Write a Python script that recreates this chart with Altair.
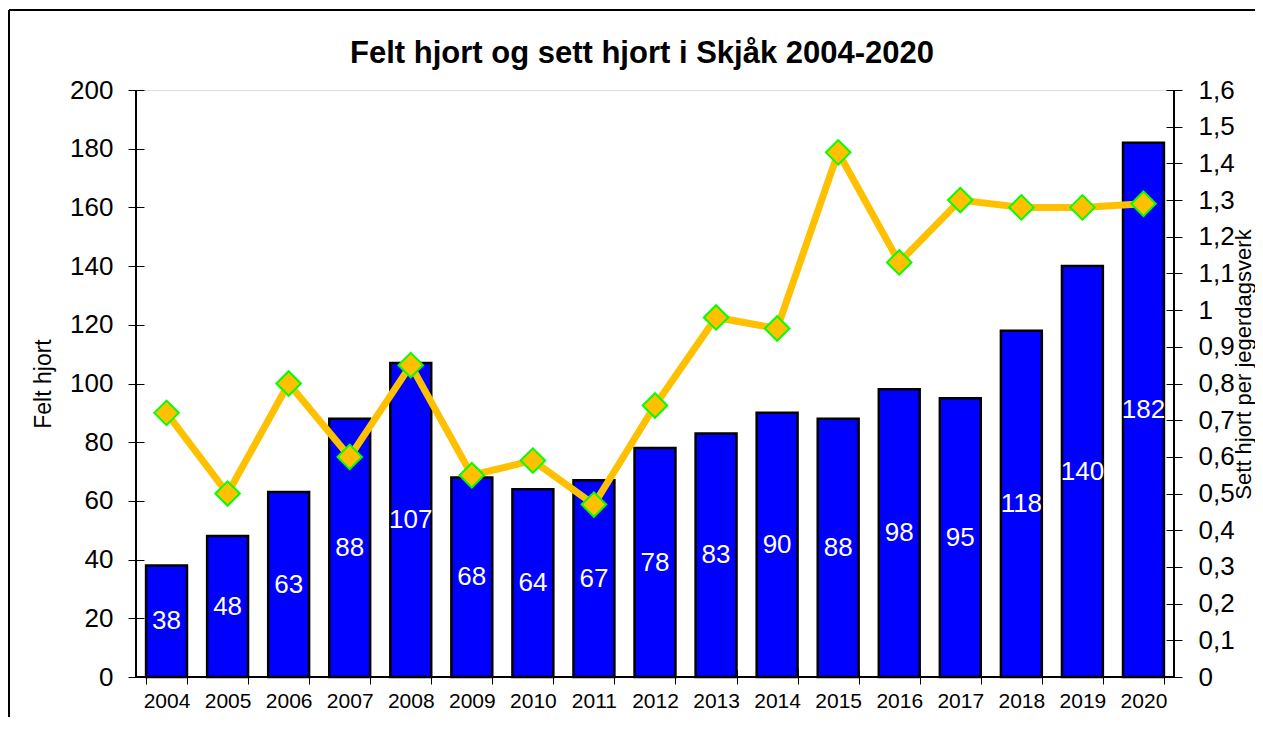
import altair as alt
import pandas as pd

years = [str(y) for y in range(2004, 2021)]
felt = [38, 48, 63, 88, 107, 68, 64, 67, 78, 83, 90, 88, 98, 95, 118, 140, 182]
sett = [0.72, 0.50, 0.80, 0.60, 0.85, 0.55, 0.59, 0.47, 0.74, 0.98, 0.95, 1.43, 1.13, 1.30, 1.28, 1.28, 1.29]
title_text = ["Felt hjort og sett hjort i Skjåk 2004-2020"]
right_ticks = [0, 0.1, 0.2, 0.3, 0.4, 0.5, 0.6, 0.7, 0.8, 0.9, 1.0, 1.1, 1.2, 1.3, 1.4, 1.5, 1.6]

df = pd.DataFrame({"year": years, "felt": felt, "sett": sett})
tdf = pd.DataFrame({"t": title_text})

FONT = "Liberation Sans, Arial, sans-serif"
W, H = 1038, 587

x_enc = alt.X(
    "year:N",
    title=None,
    scale=alt.Scale(paddingInner=0.33, paddingOuter=0.165),
    axis=alt.Axis(
        labelAngle=0, labelFont=FONT, labelFontSize=21, labelColor="black",
        tickBand="extent", tickColor="black", tickSize=14, offset=-7,
        domain=False, labelPadding=6, grid=False,
    ),
)

base = alt.Chart(df)

left_axis = alt.Axis(
    orient="left", values=list(range(0, 201, 20)), offset=-8, tickSize=16,
    tickColor="black", domain=False, grid=False, labelFont=FONT,
    labelFontSize=26, labelColor="black", labelPadding=15,
    labelOverlap=False,
    titleFont=FONT, titleFontSize=23, titleFontWeight="normal",
    titleColor="black", titlePadding=14,
)

right_axis = alt.Axis(
    orient="right", values=right_ticks,
    labelExpr="replace(format(datum.value, '.1~f'), '.', ',')",
    labelOverlap=False,
    offset=-8, tickSize=16, tickColor="black", domain=False, grid=False,
    labelFont=FONT, labelFontSize=26, labelColor="black", labelPadding=16,
    titleFont=FONT, titleFontSize=22, titleFontWeight="normal",
    titleColor="black", titleAngle=270, titleAlign="center",
    titleBaseline="middle", titleX=77, titleY=274,
)

left_scale = alt.Scale(domain=[0, 200], nice=False)
right_scale = alt.Scale(domain=[0, 1.6], nice=False)

bars = base.mark_bar(color="#0000FF", stroke="black", strokeWidth=2.5).encode(
    x=x_enc,
    y=alt.Y("felt:Q", title="Felt hjort", scale=left_scale, axis=left_axis),
)

labels = base.transform_calculate(mid="datum.felt / 2").mark_text(
    color="white", font=FONT, fontSize=26, baseline="middle"
).encode(
    x=x_enc,
    y=alt.Y("mid:Q", title="Felt hjort", scale=left_scale, axis=left_axis),
    text="felt:Q",
)

line = base.mark_line(color="#FFC000", strokeWidth=7).encode(
    x=x_enc,
    y=alt.Y("sett:Q", title="Sett hjort per jegerdagsverk", scale=right_scale, axis=right_axis),
)

points = base.mark_point(
    shape="diamond", filled=True, fill="#FFC000", stroke="#00FF00",
    strokeWidth=2, size=600, opacity=1,
).encode(
    x=x_enc,
    y=alt.Y("sett:Q", title="Sett hjort per jegerdagsverk", scale=right_scale, axis=right_axis),
)

title = alt.Chart(tdf).mark_text(
    font=FONT, fontSize=31, fontWeight="bold", color="black",
    align="center", baseline="alphabetic",
).encode(text="t:N", x=alt.value(506), y=alt.value(-27))

# plot-area edges and outer frame
edge_left = base.mark_rule(color="black", strokeWidth=1.5).encode(
    x=alt.value(0), y=alt.value(0), y2=alt.value(H)
)
edge_right = base.mark_rule(color="black", strokeWidth=1.5).encode(
    x=alt.value(W), y=alt.value(0), y2=alt.value(H)
)
edge_bottom = base.mark_rule(color="black", strokeWidth=1.5).encode(
    x=alt.value(0), x2=alt.value(W), y=alt.value(H)
)
frame_left = base.mark_rule(color="black", strokeWidth=1).encode(
    x=alt.value(-127), y=alt.value(-80), y2=alt.value(H + 60)
)
frame_top = base.mark_rule(color="black", strokeWidth=1).encode(
    x=alt.value(-127), x2=alt.value(W + 120), y=alt.value(-80)
)

left = alt.layer(bars, labels, edge_left, edge_bottom, frame_left, frame_top, title)
right = alt.layer(line, points, edge_right)

chart = alt.layer(left, right).resolve_scale(y="independent").properties(
    width=W,
    height=H,
    autosize=alt.AutoSizeParams(type="none"),
    padding={"left": 128, "top": 82, "right": 81, "bottom": 40},
).configure_view(
    stroke="#888888", strokeWidth=2
).configure_axis(labelOverlap=False).configure(background="white")

chart.save("out.html", embed_options={"renderer": "svg", "actions": False})
